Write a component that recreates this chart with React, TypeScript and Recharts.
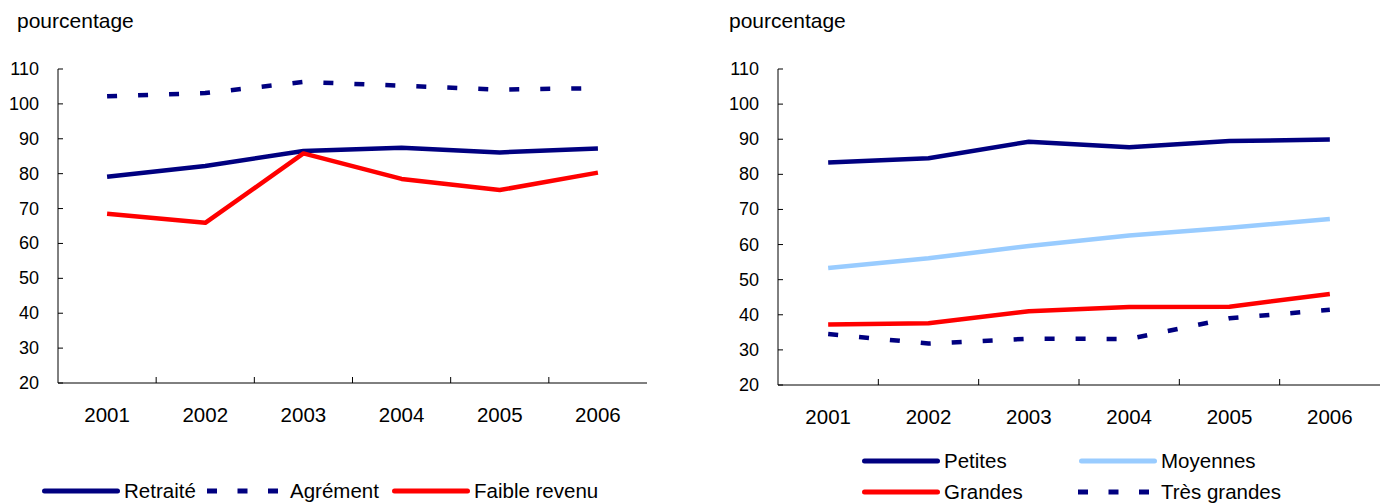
import React from "react";
import { LineChart, Line, XAxis, YAxis } from "recharts";

// values (pourcentage)
const years = ["2001", "2002", "2003", "2004", "2005", "2006"];
const yTicks = [20, 30, 40, 50, 60, 70, 80, 90, 100, 110];

const retraite = [79.1, 82.2, 86.5, 87.4, 86.1, 87.2];
const agrement = [102.2, 103.1, 106.3, 105.2, 104.1, 104.5];
const faibleRevenu = [68.5, 65.9, 85.8, 78.5, 75.3, 80.3];

const petites = [83.4, 84.6, 89.3, 87.7, 89.5, 89.9];
const moyennes = [53.3, 56.1, 59.6, 62.6, 64.8, 67.3];
const grandes = [37.2, 37.6, 41.0, 42.2, 42.3, 45.9];
const tresGrandes = [34.5, 31.8, 33.2, 33.1, 39.0, 41.4];

const FONT = '"Liberation Sans", Arial, Helvetica, sans-serif';
const NAVY = "#000080";
const RED = "#ff0000";
const LIGHT = "#99ccff";
const DASH = "10 21";

type Serie = { key: string; name: string; color: string; dashed?: boolean; values: number[] };

const leftSeries: Serie[] = [
  { key: "retraite", name: "Retraité", color: NAVY, values: retraite },
  { key: "agrement", name: "Agrément", color: NAVY, dashed: true, values: agrement },
  { key: "faible", name: "Faible revenu", color: RED, values: faibleRevenu },
];

const rightSeries: Serie[] = [
  { key: "petites", name: "Petites", color: NAVY, values: petites },
  { key: "moyennes", name: "Moyennes", color: LIGHT, values: moyennes },
  { key: "grandes", name: "Grandes", color: RED, values: grandes },
  { key: "tres", name: "Très grandes", color: NAVY, dashed: true, values: tresGrandes },
];

// legend layout: [sample start, text start, row center y]
const leftLegendPos = [
  [42, 124, 491],
  [207, 290, 491],
  [392, 474, 491],
];
const rightLegendPos = [
  [862, 944, 461],
  [1079, 1161, 461],
  [862, 944, 492],
  [1078, 1161, 492],
];

const XTick = (props: any) => {
  const { x, y, payload, index, bw } = props;
  return (
    <g>
      {index > 0 && (
        <line x1={x - bw / 2} x2={x - bw / 2} y1={y - 31} y2={y - 37} stroke="#000" strokeWidth={1} />
      )}
      <text x={x} y={y} textAnchor="middle" dominantBaseline="central" fontSize={20.5} fontFamily={FONT} fill="#000">
        {payload.value}
      </text>
    </g>
  );
};

const YTick = (props: any) => {
  const { x, y, payload } = props;
  return (
    <g>
      <line x1={x + 19} x2={x + 24} y1={y} y2={y} stroke="#000" strokeWidth={1} />
      <text x={x} y={y} textAnchor="end" dominantBaseline="central" fontSize={18} fontFamily={FONT} fill="#000">
        {payload.value}
      </text>
    </g>
  );
};

const Panel = ({
  series,
  left,
  width,
  marginRight,
  plotBottom,
}: {
  series: Serie[];
  left: number;
  width: number;
  marginRight: number;
  plotBottom: number;
}) => {
  const height = 440;
  const data = years.map((year, i) => {
    const row: any = { year };
    series.forEach((s) => (row[s.key] = s.values[i]));
    return row;
  });
  const bw = (width - 58 - marginRight) / years.length;

  return (
    <div style={{ position: "absolute", left, top: 0 }}>
      <LineChart
        width={width}
        height={height}
        data={data}
        margin={{ top: 69, right: marginRight, left: 0, bottom: height - plotBottom - 40 }}
      >
        <XAxis
          dataKey="year"
          scale="band"
          height={40}
          interval={0}
          tickSize={0}
          tickMargin={31}
          axisLine={{ stroke: "#000" }}
          tick={(p: any) => <XTick {...p} bw={bw} />}
        />
        <XAxis
          xAxisId="top"
          orientation="top"
          dataKey="year"
          height={0}
          tick={false}
          tickLine={false}
          axisLine={{ stroke: "#888" }}
        />
        <YAxis
          domain={[20, 110]}
          ticks={yTicks}
          interval={0}
          width={58}
          tickSize={0}
          tickMargin={19}
          axisLine={{ stroke: "#000" }}
          tick={(p: any) => <YTick {...p} />}
        />
        <YAxis
          yAxisId="right"
          orientation="right"
          domain={[20, 110]}
          width={0}
          tick={false}
          tickLine={false}
          axisLine={{ stroke: "#222" }}
        />
        {series.map((s) => (
          <Line
            key={s.key}
            type="linear"
            dataKey={s.key}
            name={s.name}
            stroke={s.color}
            strokeWidth={4.5}
            strokeDasharray={s.dashed ? DASH : undefined}
            strokeLinejoin="round"
            dot={false}
            activeDot={false}
            isAnimationActive={false}
          />
        ))}
      </LineChart>
    </div>
  );
};

const LegendItems = ({ series, pos }: { series: Serie[]; pos: number[][] }) => (
  <>
    {series.map((s, i) => {
      const [sx, tx, cy] = pos[i];
      const w = s.dashed ? 72 : 78;
      return (
        <React.Fragment key={s.key}>
          <svg style={{ position: "absolute", left: sx, top: cy - 5 }} width={w} height={10}>
            {s.dashed ? (
              <line x1={0} x2={w} y1={5} y2={5} stroke={s.color} strokeWidth={5} strokeDasharray="10 20.5" />
            ) : (
              <line x1={2.5} x2={w - 2.5} y1={5} y2={5} stroke={s.color} strokeWidth={5} strokeLinecap="round" />
            )}
          </svg>
          <span
            style={{
              position: "absolute",
              left: tx,
              top: cy,
              transform: "translateY(-50%)",
              fontSize: 20.5,
              lineHeight: 1,
              fontFamily: FONT,
              color: "#000",
              whiteSpace: "nowrap",
            }}
          >
            {s.name}
          </span>
        </React.Fragment>
      );
    })}
  </>
);

const titleStyle: React.CSSProperties = {
  position: "absolute",
  top: 20,
  transform: "translateY(-50%)",
  fontSize: 21,
  lineHeight: 1,
  fontFamily: FONT,
  color: "#000",
};

export default function App() {
  return (
    <div style={{ position: "absolute", left: 0, top: 0, width: 1387, height: 503, background: "#fff", overflow: "hidden" }}>
      <span style={{ ...titleStyle, left: 17 }}>pourcentage</span>
      <span style={{ ...titleStyle, left: 729 }}>pourcentage</span>
      <Panel series={leftSeries} left={0} width={660} marginRight={13} plotBottom={383} />
      <Panel series={rightSeries} left={720} width={667} marginRight={7} plotBottom={385} />
      <LegendItems series={leftSeries} pos={leftLegendPos} />
      <LegendItems series={rightSeries} pos={rightLegendPos} />
    </div>
  );
}
